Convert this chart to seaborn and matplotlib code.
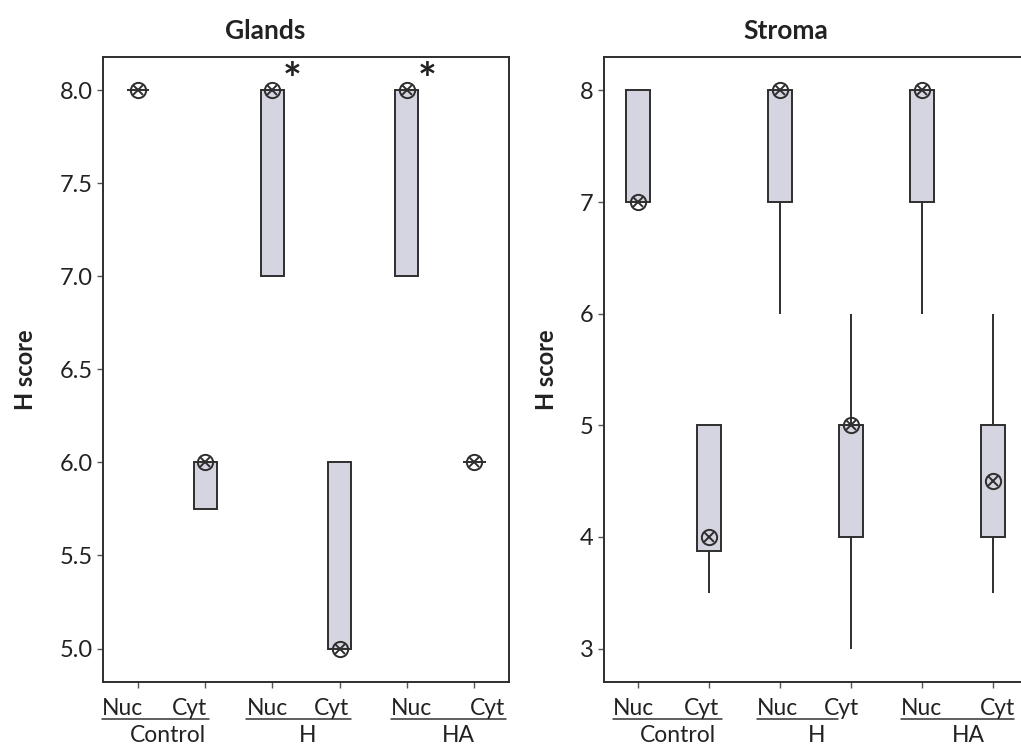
import numpy as np
import pandas as pd
import seaborn as sns
import matplotlib.pyplot as plt
import matplotlib.transforms as mtransforms

# categories (compartment within treatment)
cats = ['Control Nuc', 'Control Cyt', 'H Nuc', 'H Cyt', 'HA Nuc', 'HA Cyt']
sub_labels = ['Nuc', 'Cyt', 'Nuc', 'Cyt', 'Nuc', 'Cyt']
groups = ['Control', 'H', 'HA']

# five-number summaries: [low, q1, median, q3, high]
glands_lo = [8.0, 5.75, 7.0, 5.0, 7.0, 6.0]
glands_q1 = [8.0, 5.75, 7.0, 5.0, 7.0, 6.0]
glands_med = [8.0, 6.0, 8.0, 5.0, 8.0, 6.0]
glands_q3 = [8.0, 6.0, 8.0, 6.0, 8.0, 6.0]
glands_hi = [8.0, 6.0, 8.0, 6.0, 8.0, 6.0]
glands_mark = [8.0, 6.0, 8.0, 5.0, 8.0, 6.0]

stroma_lo = [7.0, 3.5, 6.0, 3.0, 6.0, 3.5]
stroma_q1 = [7.0, 3.875, 7.0, 4.0, 7.0, 4.0]
stroma_med = [7.0, 4.0, 8.0, 5.0, 8.0, 4.5]
stroma_q3 = [8.0, 5.0, 8.0, 5.0, 8.0, 5.0]
stroma_hi = [8.0, 5.0, 8.0, 6.0, 8.0, 6.0]
stroma_mark = [7.0, 4.0, 8.0, 5.0, 8.0, 4.5]

# significance stars (Glands)
star_cats = ['H Nuc', 'HA Nuc']


def long_form(lo, q1, med, q3, hi):
    rows = []
    for c, a, b, m, d, e in zip(cats, lo, q1, med, q3, hi):
        for v in (a, b, m, d, e):
            rows.append({'cat': c, 'score': v})
    return pd.DataFrame(rows)


glands = long_form(glands_lo, glands_q1, glands_med, glands_q3, glands_hi)
stroma = long_form(stroma_lo, stroma_q1, stroma_med, stroma_q3, stroma_hi)
glands_m = pd.DataFrame({'cat': cats, 'score': glands_mark})
stroma_m = pd.DataFrame({'cat': cats, 'score': stroma_mark})

sns.set_style("ticks")
plt.rcParams['font.family'] = ['Lato', 'DejaVu Sans']

edge = '#2e2e2e'
fill = '#d5d5e1'
txt = '#222222'

fig = plt.figure(figsize=(10.21, 7.51), dpi=100)
ax1 = fig.add_axes([0.1009, 0.0919, 0.3977, 0.8322])
ax2 = fig.add_axes([0.5916, 0.0919, 0.4143, 0.8322])


def draw(ax, box_df, mark_df, xlim, ylim, yticks, yfmt, title, title_x,
         sub_x, grp_x, lines):
    sns.boxplot(data=box_df, x='cat', y='score', order=cats, ax=ax,
                whis=(0, 100), width=0.34, color=fill, saturation=1,
                linecolor=edge, linewidth=1.4, showcaps=False,
                showfliers=False, medianprops={'linewidth': 0})
    for mk, kw in (('o', {'markerfacecolor': 'none', 'markersize': 11}),
                   ('x', {'markersize': 7.5})):
        sns.pointplot(data=mark_df, x='cat', y='score', order=cats, ax=ax,
                      estimator='mean', errorbar=None, linestyle='none',
                      marker=mk, color=edge, markeredgewidth=1.4, **kw)
    ax.set_xlim(*xlim)
    ax.set_ylim(*ylim)
    ax.set_yticks(yticks)
    ax.set_yticklabels([yfmt.format(t) for t in yticks], fontsize=17,
                       color=txt)
    ax.set_xticks(range(len(cats)))
    ax.set_xticklabels([''] * len(cats))
    ax.set_xlabel('')
    ax.set_ylabel('H score', fontsize=17, fontweight='bold', labelpad=16,
                  color=txt)
    ax.tick_params(axis='both', direction='out', length=4, width=1,
                   color='#555555')
    for s in ax.spines.values():
        s.set_visible(True)
        s.set_color(edge)
        s.set_linewidth(1.4)
    ax.set_title(title, fontsize=19, fontweight='bold', x=title_x, y=1.015,
                 color=txt)
    tr = mtransforms.blended_transform_factory(ax.transData, ax.transAxes)
    for x, lab in zip(sub_x, sub_labels):
        ax.text(x, -0.043, lab, transform=tr, ha='center', va='center',
                fontsize=16.5, color=txt)
    for (x0, x1) in lines:
        ax.plot([x0, x1], [-0.059, -0.059], transform=tr, color='#333333',
                lw=1.1, clip_on=False)
    for x, lab in zip(grp_x, groups):
        ax.text(x, -0.085, lab, transform=tr, ha='center', va='center',
                fontsize=16.5, color=txt)


draw(ax1, glands, glands_m, (-0.52, 5.52), (4.82, 8.18),
     [5.0, 5.5, 6.0, 6.5, 7.0, 7.5, 8.0],
     '{:.1f}', 'Glands', 0.40,
     [-0.23, 0.77, 1.92, 2.88, 4.07, 5.2],
     [0.44, 2.53, 4.77],
     [(-0.53, 1.06), (1.6, 3.17), (3.76, 5.47)])

draw(ax2, stroma, stroma_m, (-0.48, 5.48), (2.7, 8.3), [3, 4, 5, 6, 7, 8],
     '{:d}', 'Stroma', 0.43,
     [-0.07, 0.89, 1.97, 2.86, 4.0, 5.06],
     [0.56, 2.52, 4.65],
     [(-0.35, 1.18), (1.68, 2.82), (3.7, 5.3)])

for c in star_cats:
    i = cats.index(c)
    ax1.text(i + 0.3, glands_mark[i] + 0.05, '*', ha='center', va='center',
             fontsize=32, fontweight='bold', color=txt)

fig.savefig('out.png', dpi=100)
